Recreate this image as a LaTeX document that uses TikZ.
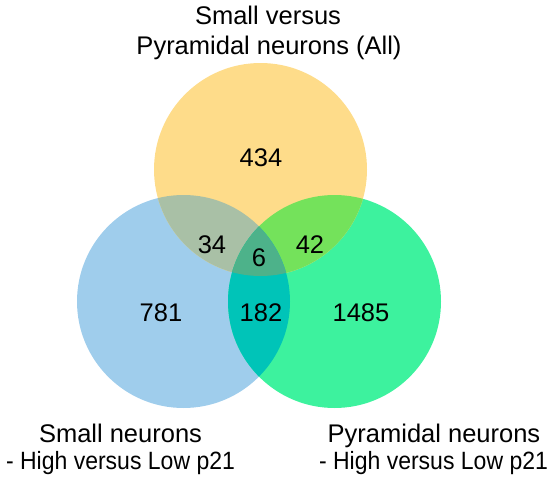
\documentclass[tikz,border=0pt]{standalone}
\usepackage{fontspec}
\setmainfont{Liberation Sans}
\definecolor{cY}{HTML}{FEDC8A}
\definecolor{cB}{HTML}{9FCDEC}
\definecolor{cG}{HTML}{3DF29E}
\definecolor{cYB}{HTML}{A9C0A6}
\definecolor{cYG}{HTML}{74E25B}
\definecolor{cBG}{HTML}{00C4B8}
\definecolor{cYBG}{HTML}{4DB28A}
\tikzset{
  lbl/.style={anchor=base, inner sep=0pt, font=\fontsize{25.5}{30}\selectfont},
  sublbl/.style={anchor=base, inner sep=0pt, font=\fontsize{25}{30}\selectfont},
}
\newcommand{\subtext}[1]{\scalebox{0.92}[1]{#1}}
\begin{document}
\begin{tikzpicture}[x=1pt,y=-1pt]
\useasboundingbox (0,0) rectangle (550,479);
\def\R{106.5}
\coordinate (cT) at (260.5,169.5);
\coordinate (cL) at (183.5,301.5);
\coordinate (cR) at (334.5,301.5);
% single circles
\fill[cB] (cL) circle[radius=\R];
\fill[cG] (cR) circle[radius=\R];
\fill[cY] (cT) circle[radius=\R];
% pairwise overlaps
\begin{scope}
  \clip (cT) circle[radius=\R];
  \fill[cYB] (cL) circle[radius=\R];
  \fill[cYG] (cR) circle[radius=\R];
\end{scope}
\begin{scope}
  \clip (cL) circle[radius=\R];
  \fill[cBG] (cR) circle[radius=\R];
  \clip (cR) circle[radius=\R];
  \fill[cYBG] (cT) circle[radius=\R];
\end{scope}
% labels
\node[lbl] (t1) at (268,24) {Small versus};
\node[lbl] (t2) at (269,55) {Pyramidal neurons (All)};
\node[lbl] (n434) at (261,166) {434};
\node[lbl] (n34) at (212,253) {34};
\node[lbl] (n42) at (310,253) {42};
\node[lbl] (n6) at (259,266) {6};
\node[lbl] (n781) at (161,321) {781};
\node[lbl] (n182) at (261,321) {182};
\node[lbl] (n1485) at (361,321) {1485};
\node[lbl] (l1) at (120.5,442) {Small neurons};
\node[sublbl] (l2) at (120.5,469) {\subtext{- High versus Low p21}};
\node[lbl] (r1) at (434,442) {Pyramidal neurons};
\node[sublbl] (r2) at (433.5,469) {\subtext{- High versus Low p21}};
\end{tikzpicture}
\end{document}
